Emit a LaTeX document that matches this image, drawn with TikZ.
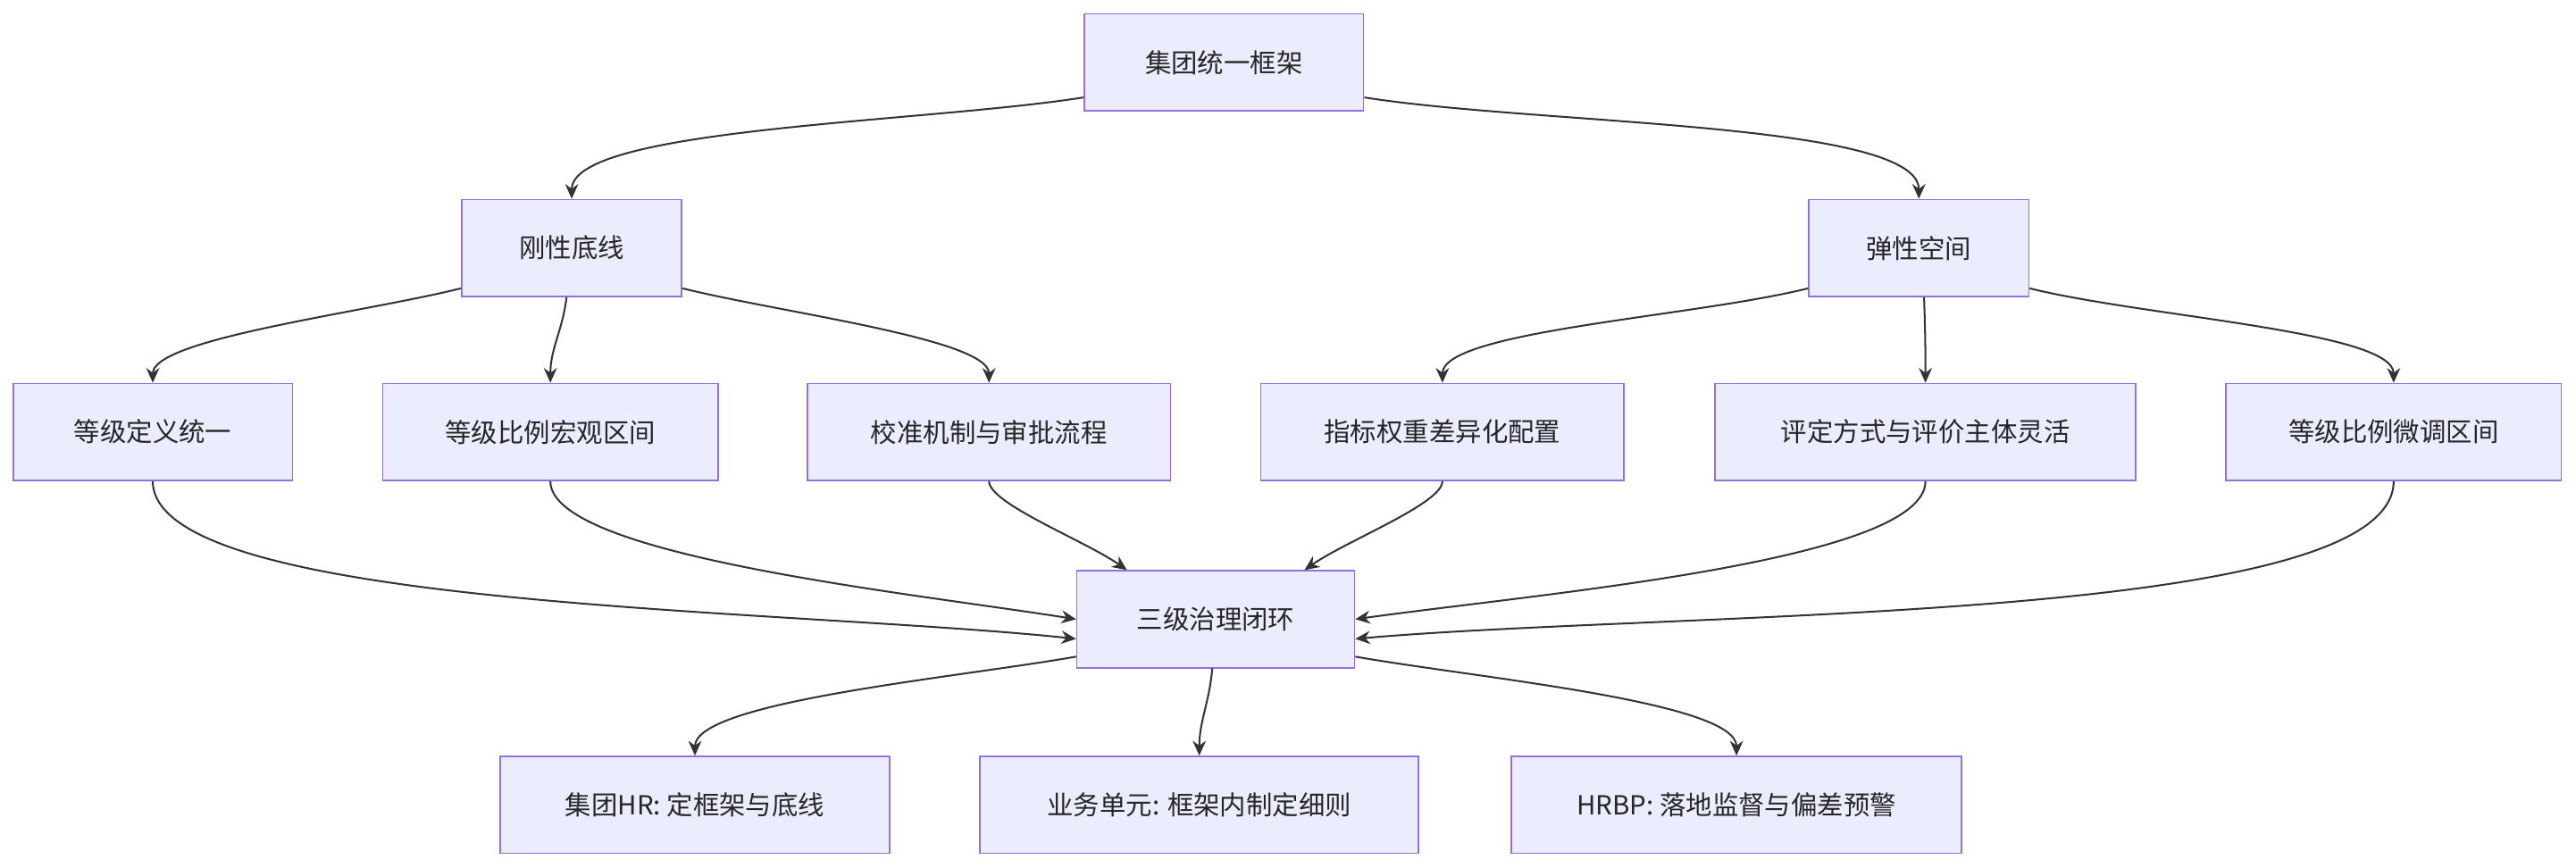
\documentclass[tikz,border=0pt]{standalone}
\usepackage{fontspec}
\setmainfont{Noto Sans CJK SC}
\usetikzlibrary{arrows.meta}
\definecolor{boxfill}{HTML}{ECECFF}
\definecolor{boxline}{HTML}{9370DB}
\definecolor{linkc}{HTML}{333333}
\tikzset{
  box/.style={draw=boxline, fill=boxfill, line width=0.9pt, minimum height=59pt,
    inner xsep=0pt, font=\fontsize{16}{19}\selectfont, text=black!85},
  link/.style={draw=linkc, line width=1.1pt, -{Stealth[length=9pt,width=8pt]}},
  down/.style={out looseness=0.8, in looseness=0.35},
  up/.style={out looseness=0.35, in looseness=0.8}
}
\begin{document}
\begin{tikzpicture}[x=1pt, y=-1pt]
\useasboundingbox (0,0) rectangle (1568,528);
% top
\node[box, minimum width=170pt] (top) at (745,38) {集团统一框架};
\node[box, minimum width=134pt] (rigid) at (348,151) {刚性底线};
\node[box, minimum width=134pt] (flex) at (1168,151) {弹性空间};
% middle row
\node[box, minimum width=170pt] (r1) at (93,263) {等级定义统一};
\node[box, minimum width=204pt] (r2) at (335,263) {等级比例宏观区间};
\node[box, minimum width=221pt] (r3) at (602,263) {校准机制与审批流程};
\node[box, minimum width=221pt] (f1) at (878,263) {指标权重差异化配置};
\node[box, minimum width=256pt] (f2) at (1172,263) {评定方式与评价主体灵活};
\node[box, minimum width=204pt] (f3) at (1457,263) {等级比例微调区间};
% governance
\node[box, minimum width=169pt] (gov) at (740,377) {三级治理闭环};
\node[box, minimum width=237pt] (g1) at (423,490) {集团HR: 定框架与底线};
\node[box, minimum width=267pt] (g2) at (730,490) {业务单元: 框架内制定细则};
\node[box, minimum width=274pt] (g3) at (1057,490) {HRBP: 落地监督与偏差预警};
% links
\draw[link] (top.194) to[out=189, in=90, down] (rigid.north);
\draw[link] (top.-14) to[out=-9, in=90, down] (flex.north);
\draw[link] (rigid.200) to[out=194, in=90, down] (r1.north);
\draw[link] (rigid.-96) to[out=-97, in=90] (r2.north);
\draw[link] (rigid.-20) to[out=-14, in=90, down] (r3.north);
\draw[link] (flex.200) to[out=194, in=90, down] (f1.north);
\draw[link] (flex.-84) to[out=-88, in=90] (f2.north);
\draw[link] (flex.-20) to[out=-14, in=90, down] (f3.north);
\draw[link] (r1.south) to[out=-90, in=174, up] (gov.188);
\draw[link] (r2.south) to[out=-90, in=171, up] (gov.180);
\draw[link] (r3.south) to[out=-90, in=145, up] (gov.151);
\draw[link] (f1.south) to[out=-90, in=35, up] (gov.29);
\draw[link] (f2.south) to[out=-90, in=8, up] (gov.0);
\draw[link] (f3.south) to[out=-90, in=5, up] (gov.-8);
\draw[link] (gov.195) to[out=190, in=90, down] (g1.north);
\draw[link] (gov.-94) to[out=-95, in=90] (g2.north);
\draw[link] (gov.-15) to[out=-10, in=90, down] (g3.north);
\end{tikzpicture}
\end{document}
